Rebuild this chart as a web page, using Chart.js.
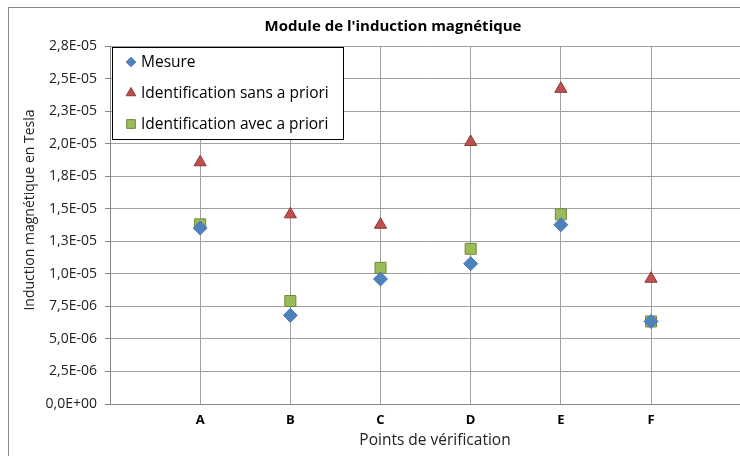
<!DOCTYPE html>
<html><head><meta charset="utf-8">
<script src="https://cdn.jsdelivr.net/npm/chart.js@4/dist/chart.umd.min.js"></script>
<style>html,body{margin:0;padding:0;background:#fff;overflow:hidden}#wrap{width:740px;height:456px;position:relative;overflow:hidden}</style>
</head><body><div id="wrap"><canvas id="c" width="750" height="456"></canvas></div>
<script>
const categories = ['A','B','C','D','E','F'];
const mesure = [1.352e-5, 6.81e-6, 9.60e-6, 1.078e-5, 1.377e-5, 6.34e-6];
const sansAPriori = [1.857e-5, 1.457e-5, 1.377e-5, 2.013e-5, 2.421e-5, 9.62e-6];
const avecAPriori = [1.380e-5, 7.91e-6, 1.046e-5, 1.192e-5, 1.457e-5, 6.34e-6];
const yTickLabels = ['0,0E+00','2,5E-06','5,0E-06','7,5E-06','1,0E-05','1,3E-05','1,5E-05','1,8E-05','2,0E-05','2,3E-05','2,5E-05','2,8E-05'];
const seriesNames = ['Mesure','Identification sans a priori','Identification avec a priori'];
const chartTitle = "Module de l'induction magnétique";
const xTitle = 'Points de vérification';
const yTitle = 'Induction magnétique en Tesla';
const yStep = 2.5e-6;

const FONT = "'Open Sans', 'Noto Sans', sans-serif";
const toPts = arr => arr.map((v, i) => ({x: i + 1, y: v}));

const styles = [
  {pointStyle: 'rectRot', bg: '#4F81BD', border: '#4A7AB5', r: 7, lr: 4.8},
  {pointStyle: 'triangle', bg: '#C0504D', border: '#8C3836', r: 7, lr: 5.5},
  {pointStyle: 'rect', bg: '#9BBB59', border: '#6F8A3C', r: 7.8, lr: 6.2}
];
const seriesData = [mesure, sansAPriori, avecAPriori];

const datasets = seriesData.map((d, k) => ({
  label: seriesNames[k],
  data: toPts(d),
  showLine: false,
  pointStyle: styles[k].pointStyle,
  backgroundColor: styles[k].bg,
  borderColor: styles[k].border,
  pointRadius: styles[k].r,
  pointBorderWidth: 1
}));

const decor = {
  id: 'decor',
  beforeDraw(chart) {
    const ctx = chart.ctx;
    ctx.save();
    ctx.strokeStyle = '#8a8a8a';
    ctx.lineWidth = 1;
    ctx.strokeRect(8.5, 7.5, 900, 600);
    ctx.restore();
  },
  afterDraw(chart) {
    const ctx = chart.ctx;
    ctx.save();
    // title
    ctx.fillStyle = '#000';
    ctx.textAlign = 'center';
    ctx.textBaseline = 'middle';
    ctx.font = "bold 15px " + FONT;
    ctx.fillText(chartTitle, 393, 27);
    // x title
    ctx.font = "15.5px " + FONT;
    ctx.fillStyle = '#222';
    ctx.fillText(xTitle, 435, 441);
    // y title
    ctx.font = "14px " + FONT;
    ctx.save();
    ctx.translate(30, 210);
    ctx.rotate(-Math.PI / 2);
    ctx.fillText(yTitle, 0, 0);
    ctx.restore();
    // legend
    ctx.fillStyle = '#fff';
    ctx.fillRect(112, 47, 231, 92);
    ctx.strokeStyle = '#000';
    ctx.lineWidth = 1;
    ctx.strokeRect(112.5, 47.5, 231, 92);
    const ys = [62, 93, 124];
    ctx.font = "15.5px " + FONT;
    ctx.textAlign = 'left';
    for (let k = 0; k < 3; k++) {
      ctx.fillStyle = styles[k].bg;
      ctx.strokeStyle = styles[k].border;
      ctx.lineWidth = 1;
      Chart.helpers.drawPoint(ctx, {pointStyle: styles[k].pointStyle, radius: styles[k].lr, borderWidth: 1}, 131, ys[k]);
      ctx.fillStyle = '#000';
      ctx.fillText(seriesNames[k], 141, ys[k] + 1);
    }
    ctx.restore();
  }
};

new Chart(document.getElementById('c'), {
  type: 'scatter',
  data: {datasets},
  options: {
    responsive: false,
    animation: false,
    layout: {padding: {top: 46, left: 0, right: 0, bottom: 0}},
    plugins: {legend: {display: false}, title: {display: false}, tooltip: {enabled: false}},
    scales: {
      x: {
        type: 'linear', min: 0, max: 7,
        afterFit: s => { s.height = 52; },
        ticks: {stepSize: 1, autoSkip: false, padding: 8, color: '#000',
          font: {family: FONT, size: 13, weight: 'bold'},
          callback: v => categories[v - 1] !== undefined ? categories[v - 1] : ''},
        grid: {drawTicks: false, color: ctx => (ctx.tick && ctx.tick.value === 7) ? 'rgba(0,0,0,0)' : '#a0a0a0', lineWidth: 1},
        border: {color: '#868686'}
      },
      y: {
        min: 0, max: 11 * yStep,
        afterFit: s => { s.width = 110; },
        ticks: {stepSize: yStep, padding: 8, color: '#222',
          font: {family: FONT, size: 14},
          callback: (v, i) => yTickLabels[i]},
        grid: {color: '#a0a0a0', tickLength: 5, tickColor: '#868686'},
        border: {color: '#868686'}
      }
    }
  },
  plugins: [decor]
});
</script></body></html>
